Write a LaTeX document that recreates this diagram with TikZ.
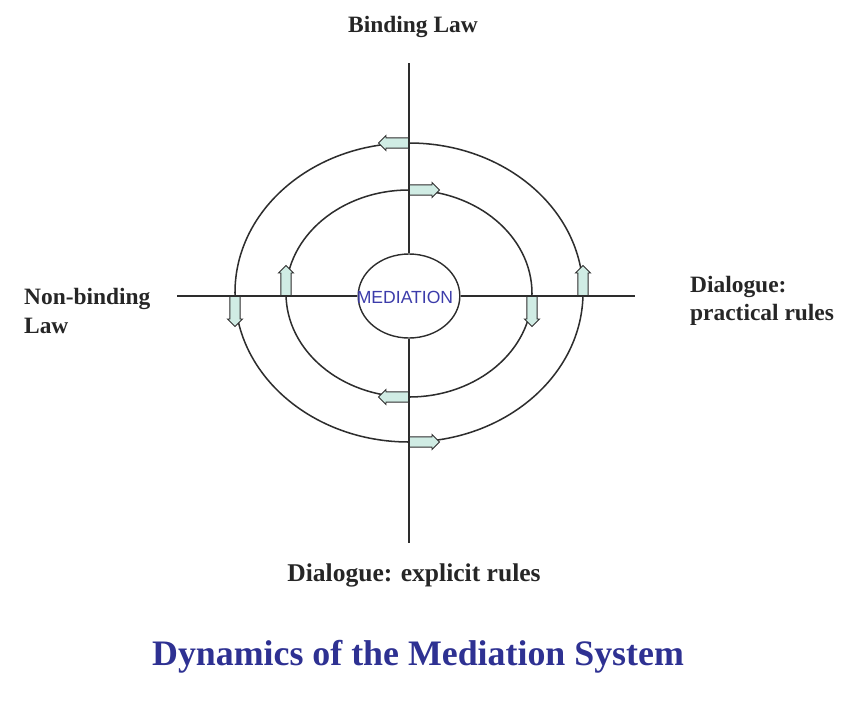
\documentclass[tikz,border=0pt]{standalone}
\usepackage{fontspec}
\setmainfont{Liberation Serif}
\newfontfamily\medfont{Liberation Sans}
\usetikzlibrary{shapes.geometric,shapes.arrows}

\definecolor{flowfill}{RGB}{208,236,228}
\definecolor{linegray}{RGB}{45,45,45}
\definecolor{titleblue}{RGB}{46,49,146}
\definecolor{medblue}{RGB}{60,60,170}

\tikzset{
  axis/.style={linegray, line width=1.3pt},
  ring/.style={linegray, line width=1.3pt},
  flow/.style={single arrow, draw=linegray, fill=flowfill, line width=0.8pt,
    minimum height=0.9cm, inner sep=0.14cm, single arrow head extend=0.07cm, anchor=tail},
  lbl/.style={font=\fontsize{20}{24}\selectfont\bfseries, text=black!85}
}

\begin{document}
\begin{tikzpicture}[x=0.03cm, y=-0.03cm]
\useasboundingbox (0,0) rectangle (845,700);
% outer and inner rings
\draw[ring] (409,292.5) ellipse [x radius=174, y radius=149.5];
\draw[ring] (409,293.5) ellipse [x radius=123, y radius=103.5];
% centre
\node[ellipse, draw=linegray, line width=1.2pt, fill=white,
  minimum width=3.05cm, minimum height=2.52cm] (med) at (409,296) {};
\node[font=\medfont\fontsize{15}{15}\selectfont, text=medblue] (medtxt) at (405,297) {MEDIATION};
% axes
\coordinate (vtop) at (409,63);
\coordinate (vbot) at (409,543);
\coordinate (hleft) at (177,296);
\coordinate (hright) at (635,296);
\draw[axis] (vtop) -- (med.north);
\draw[axis] (med.south) -- (vbot);
\draw[axis] (hleft) -- (med.west);
\draw[axis] (med.east) -- (hright);
% outer ring flow (counter-clockwise)
\node[flow, rotate=180] (otop) at (409,143) {};
\node[flow, rotate=270] (oleft) at (235,296) {};
\node[flow] (obot) at (409,442) {};
\node[flow, rotate=90] (oright) at (583,296) {};
% inner ring flow (clockwise)
\node[flow] (itop) at (409,190) {};
\node[flow, rotate=270] (iright) at (532,296) {};
\node[flow, rotate=180] (ibot) at (409,397) {};
\node[flow, rotate=90] (ileft) at (286,296) {};
% labels
\node[lbl] (binding) at (413,27) {Binding Law};
\node[lbl, align=left, anchor=west] (nonbinding) at (20,311) {Non-binding\\Law};
\node[lbl, align=left, anchor=west] (practical) at (686,301) {Dialogue:\\practical rules};
\node[lbl, font=\fontsize{21.8}{24}\selectfont\bfseries] (explicit) at (414,575) {Dialogue: explicit rules};
\node[font=\fontsize{30.6}{30}\selectfont\bfseries, text=titleblue] (title) at (418,657) {Dynamics of the Mediation System};
\end{tikzpicture}
\end{document}
